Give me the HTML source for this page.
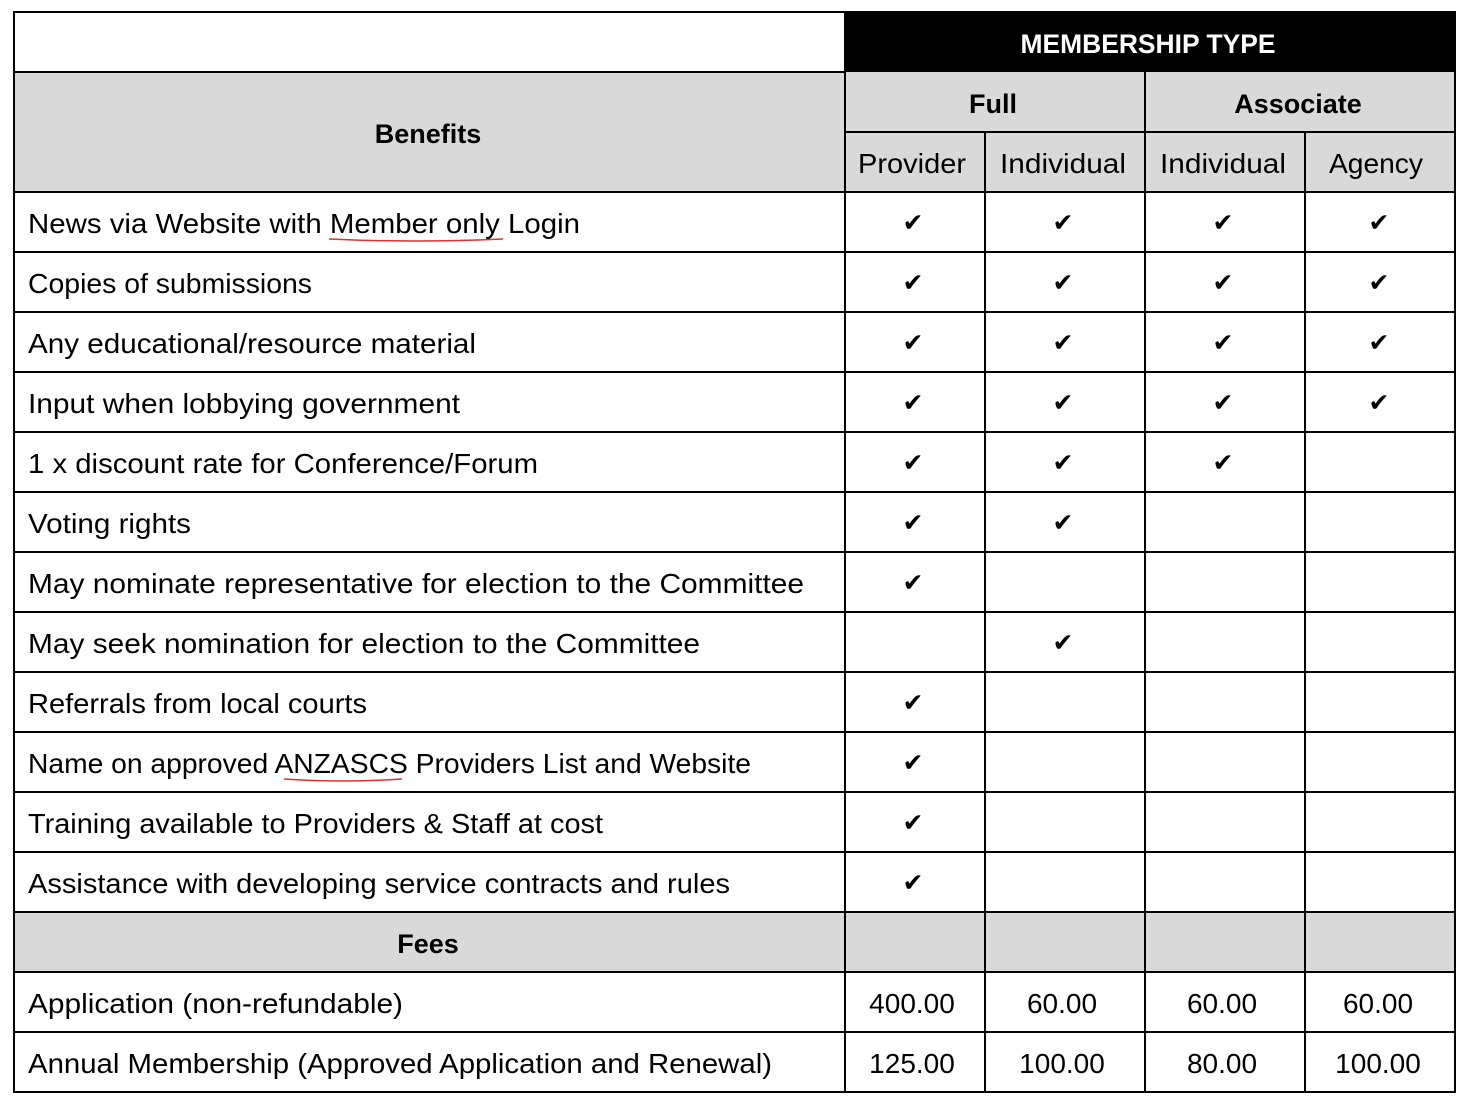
<!DOCTYPE html>
<html><head><meta charset="utf-8"><style>
html,body{margin:0;padding:0;background:#fff;}
svg{display:block;}
text{font-family:"Liberation Sans","DejaVu Sans",sans-serif;font-size:28px;fill:#000;}
.b{font-weight:bold;font-size:27px;}
.c{text-anchor:middle;}
.ck{font-family:"DejaVu Sans",sans-serif;font-size:25px;text-anchor:middle;}
</style></head><body>
<svg width="1468" height="1106" viewBox="0 0 1468 1106" xmlns="http://www.w3.org/2000/svg">
<rect x="0" y="0" width="1468" height="1106" fill="#fff"/>
<rect x="14" y="72" width="1441" height="120" fill="#d9d9d9"/>
<rect x="14" y="912" width="1441" height="60" fill="#d9d9d9"/>
<rect x="845" y="12" width="610" height="60" fill="#000"/>
<g stroke="#000" stroke-width="2" fill="none">
<rect x="14" y="12" width="1441" height="1080"/>
<line x1="14" y1="72" x2="845" y2="72"/>
<line x1="845" y1="132" x2="1455" y2="132"/>
<line x1="14" y1="192" x2="1455" y2="192"/>
<line x1="14" y1="252" x2="1455" y2="252"/>
<line x1="14" y1="312" x2="1455" y2="312"/>
<line x1="14" y1="372" x2="1455" y2="372"/>
<line x1="14" y1="432" x2="1455" y2="432"/>
<line x1="14" y1="492" x2="1455" y2="492"/>
<line x1="14" y1="552" x2="1455" y2="552"/>
<line x1="14" y1="612" x2="1455" y2="612"/>
<line x1="14" y1="672" x2="1455" y2="672"/>
<line x1="14" y1="732" x2="1455" y2="732"/>
<line x1="14" y1="792" x2="1455" y2="792"/>
<line x1="14" y1="852" x2="1455" y2="852"/>
<line x1="14" y1="912" x2="1455" y2="912"/>
<line x1="14" y1="972" x2="1455" y2="972"/>
<line x1="14" y1="1032" x2="1455" y2="1032"/>
<line x1="845" y1="12" x2="845" y2="1092"/>
<line x1="985" y1="132" x2="985" y2="1092"/>
<line x1="1145" y1="72" x2="1145" y2="1092"/>
<line x1="1305" y1="132" x2="1305" y2="1092"/>
</g>
<g stroke="#e03030" stroke-width="1.5" fill="none">
<path d="M329 239 Q 416 243 503 239"/>
<path d="M284 779 Q 343 783 402 779"/>
</g>
<text class="b c" x="1148" y="53" style="fill:#fff" textLength="255" lengthAdjust="spacingAndGlyphs">MEMBERSHIP TYPE</text>
<text class="b c" x="428" y="143">Benefits</text>
<text class="b c" x="993" y="113">Full</text>
<text class="b c" x="1298" y="113">Associate</text>
<text class="c" x="912" y="173" textLength="108" lengthAdjust="spacingAndGlyphs">Provider</text>
<text class="c" x="1063" y="173" textLength="126" lengthAdjust="spacingAndGlyphs">Individual</text>
<text class="c" x="1223" y="173" textLength="126" lengthAdjust="spacingAndGlyphs">Individual</text>
<text class="c" x="1376" y="173" textLength="94" lengthAdjust="spacingAndGlyphs">Agency</text>
<g>
<text x="28" y="233" textLength="552" lengthAdjust="spacingAndGlyphs">News via Website with Member only Login</text>
<text x="28" y="293" textLength="284" lengthAdjust="spacingAndGlyphs">Copies of submissions</text>
<text x="28" y="353" textLength="448" lengthAdjust="spacingAndGlyphs">Any educational/resource material</text>
<text x="28" y="413" textLength="432" lengthAdjust="spacingAndGlyphs">Input when lobbying government</text>
<text x="28" y="473" textLength="510" lengthAdjust="spacingAndGlyphs">1 x discount rate for Conference/Forum</text>
<text x="28" y="533" textLength="163" lengthAdjust="spacingAndGlyphs">Voting rights</text>
<text x="28" y="593" textLength="776" lengthAdjust="spacingAndGlyphs">May nominate representative for election to the Committee</text>
<text x="28" y="653" textLength="672" lengthAdjust="spacingAndGlyphs">May seek nomination for election to the Committee</text>
<text x="28" y="713" textLength="339" lengthAdjust="spacingAndGlyphs">Referrals from local courts</text>
<text x="28" y="773" textLength="723" lengthAdjust="spacingAndGlyphs">Name on approved ANZASCS Providers List and Website</text>
<text x="28" y="833" textLength="575" lengthAdjust="spacingAndGlyphs">Training available to Providers &amp; Staff at cost</text>
<text x="28" y="893" textLength="702" lengthAdjust="spacingAndGlyphs">Assistance with developing service contracts and rules</text>
<text class="b c" x="428" y="953">Fees</text>
<text x="28" y="1013" textLength="375" lengthAdjust="spacingAndGlyphs">Application (non-refundable)</text>
<text x="28" y="1073" textLength="744" lengthAdjust="spacingAndGlyphs">Annual Membership (Approved Application and Renewal)</text>
</g>
<g>
<text class="ck" x="913" y="231">✔</text><text class="ck" x="1063" y="231">✔</text><text class="ck" x="1223" y="231">✔</text><text class="ck" x="1379" y="231">✔</text>
<text class="ck" x="913" y="291">✔</text><text class="ck" x="1063" y="291">✔</text><text class="ck" x="1223" y="291">✔</text><text class="ck" x="1379" y="291">✔</text>
<text class="ck" x="913" y="351">✔</text><text class="ck" x="1063" y="351">✔</text><text class="ck" x="1223" y="351">✔</text><text class="ck" x="1379" y="351">✔</text>
<text class="ck" x="913" y="411">✔</text><text class="ck" x="1063" y="411">✔</text><text class="ck" x="1223" y="411">✔</text><text class="ck" x="1379" y="411">✔</text>
<text class="ck" x="913" y="471">✔</text><text class="ck" x="1063" y="471">✔</text><text class="ck" x="1223" y="471">✔</text>
<text class="ck" x="913" y="531">✔</text><text class="ck" x="1063" y="531">✔</text>
<text class="ck" x="913" y="591">✔</text>
<text class="ck" x="1063" y="651">✔</text>
<text class="ck" x="913" y="711">✔</text>
<text class="ck" x="913" y="771">✔</text>
<text class="ck" x="913" y="831">✔</text>
<text class="ck" x="913" y="891">✔</text>
</g>
<text class="c" x="912" y="1013">400.00</text>
<text class="c" x="1062" y="1013">60.00</text>
<text class="c" x="1222" y="1013">60.00</text>
<text class="c" x="1378" y="1013">60.00</text>
<text class="c" x="912" y="1073">125.00</text>
<text class="c" x="1062" y="1073">100.00</text>
<text class="c" x="1222" y="1073">80.00</text>
<text class="c" x="1378" y="1073">100.00</text>
</svg>
</body></html>
